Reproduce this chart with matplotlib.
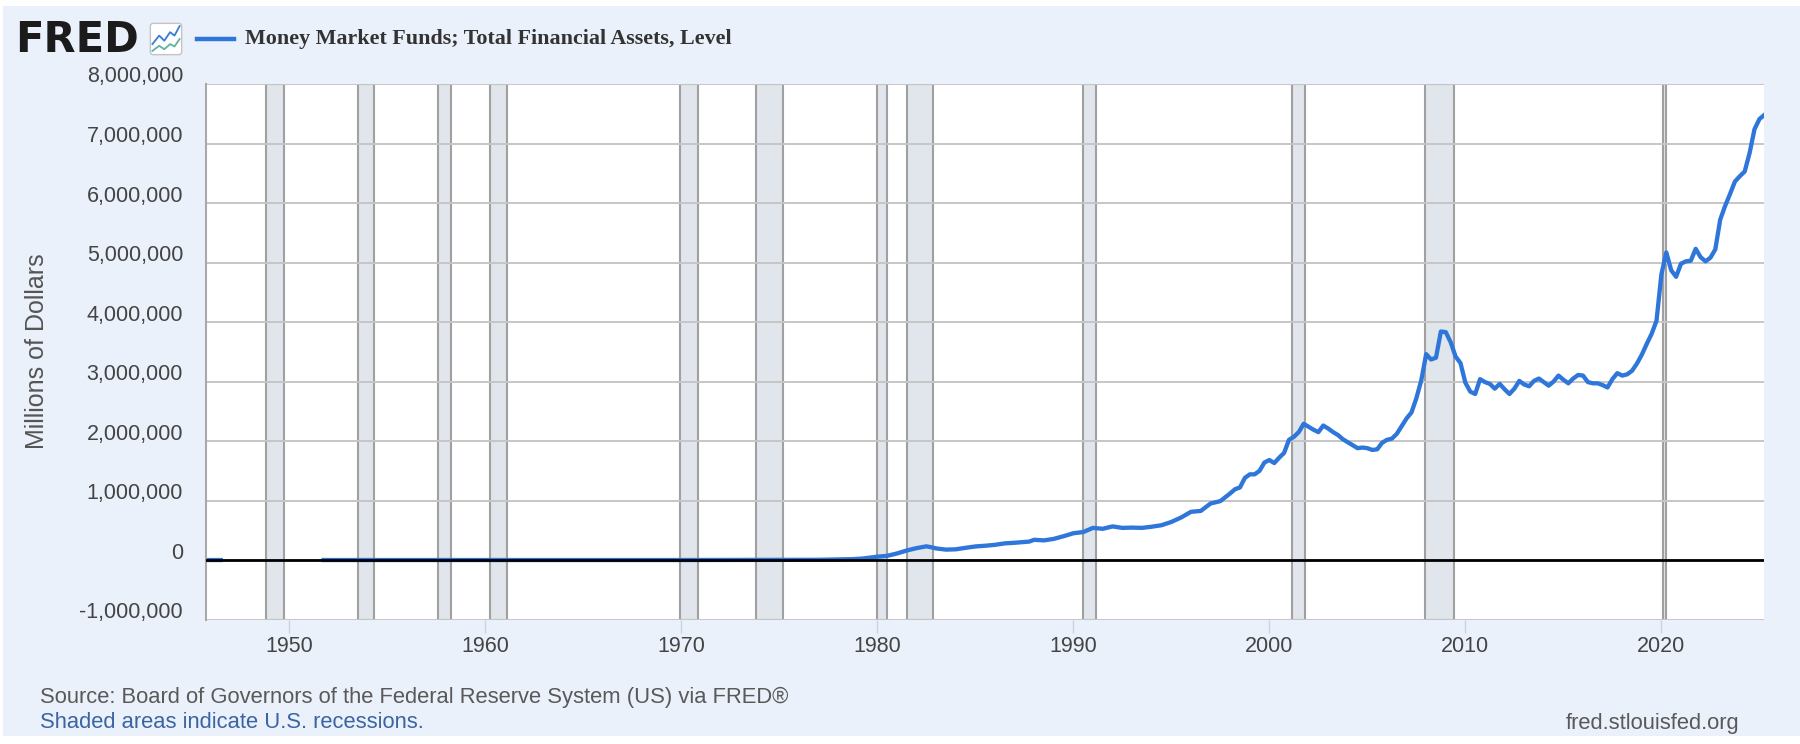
import matplotlib
matplotlib.use("Agg")
import matplotlib.pyplot as plt
import matplotlib.transforms as mtransforms
from matplotlib.patches import Rectangle, FancyBboxPatch
import numpy as np

dates = [1945.75, 1946.0, 1946.25, 1946.5, 1946.75,
         1951.75, 1955.0, 1960.0, 1965.0, 1970.0, 1974.0, 1975.0, 1977.0, 1978.0,
         1978.75, 1979.25, 1979.75, 1980.0, 1980.5, 1981.0, 1981.5, 1982.0, 1982.5,
         1982.75, 1983.0, 1983.5, 1984.0, 1984.5, 1985.0, 1985.5, 1986.0, 1986.5,
         1987.0, 1987.75, 1988.0, 1988.5, 1989.0, 1989.5, 1990.0, 1990.5, 1991.0,
         1991.5, 1992.0, 1992.5, 1993.0, 1993.5, 1994.0, 1994.5, 1995.0, 1995.5,
         1996.0, 1996.5, 1997.0, 1997.5, 1998.0, 1998.25, 1998.5, 1998.75, 1999.0,
         1999.25, 1999.5, 1999.75, 2000.0, 2000.25, 2000.5, 2000.75, 2001.0, 2001.25,
         2001.5, 2001.75, 2002.0, 2002.25, 2002.5, 2002.75, 2003.0, 2003.25, 2003.5,
         2003.75, 2004.0, 2004.25, 2004.5, 2004.75, 2005.0, 2005.25, 2005.5, 2005.75,
         2006.0, 2006.25, 2006.5, 2006.75, 2007.0, 2007.25, 2007.5, 2007.75, 2008.0,
         2008.25, 2008.5, 2008.75, 2009.0, 2009.25, 2009.5, 2009.75, 2010.0, 2010.25,
         2010.5, 2010.75, 2011.0, 2011.25, 2011.5, 2011.75, 2012.0, 2012.25, 2012.5,
         2012.75, 2013.0, 2013.25, 2013.5, 2013.75, 2014.0, 2014.25, 2014.5, 2014.75,
         2015.0, 2015.25, 2015.5, 2015.75, 2016.0, 2016.25, 2016.5, 2016.75, 2017.0,
         2017.25, 2017.5, 2017.75, 2018.0, 2018.25, 2018.5, 2018.75, 2019.0, 2019.25,
         2019.5, 2019.75, 2020.0, 2020.25, 2020.5, 2020.75, 2021.0, 2021.25, 2021.5,
         2021.75, 2022.0, 2022.25, 2022.5, 2022.75, 2023.0, 2023.25, 2023.5, 2023.75,
         2024.0, 2024.25, 2024.5, 2024.75, 2025.0, 2025.25]
assets = [0, 0, 0, 0, np.nan,
          0, 0, 0, 0, 0, 2000, 4000, 4000, 10000,
          15000, 25000, 45000, 56000, 70000, 110000, 160000, 200000, 230000,
          215000, 195000, 175000, 180000, 205000, 228000, 240000, 255000, 280000,
          290000, 310000, 340000, 330000, 355000, 400000, 450000, 470000, 540000,
          525000, 565000, 540000, 545000, 540000, 560000, 585000, 640000, 715000,
          810000, 825000, 950000, 990000, 1120000, 1190000, 1220000, 1380000, 1440000,
          1440000, 1500000, 1640000, 1680000, 1630000, 1720000, 1800000, 2020000, 2070000,
          2150000, 2290000, 2240000, 2190000, 2150000, 2260000, 2210000, 2150000, 2100000,
          2030000, 1980000, 1930000, 1880000, 1890000, 1880000, 1850000, 1860000, 1970000,
          2020000, 2040000, 2120000, 2250000, 2380000, 2480000, 2720000, 3020000, 3460000,
          3370000, 3400000, 3840000, 3830000, 3660000, 3420000, 3310000, 2980000, 2830000,
          2790000, 3040000, 2990000, 2960000, 2880000, 2960000, 2870000, 2790000, 2880000,
          3010000, 2950000, 2920000, 3010000, 3050000, 2990000, 2930000, 3000000, 3100000,
          3030000, 2970000, 3050000, 3110000, 3100000, 2990000, 2970000, 2970000, 2940000,
          2900000, 3040000, 3140000, 3100000, 3120000, 3180000, 3300000, 3450000, 3630000,
          3800000, 4020000, 4800000, 5170000, 4870000, 4760000, 4980000, 5020000, 5030000,
          5230000, 5090000, 5020000, 5080000, 5220000, 5720000, 5950000, 6150000, 6360000,
          6450000, 6530000, 6840000, 7240000, 7410000, 7480000]

# NBER recessions (start month, end month)
recessions = [("1948-11", "1949-10"), ("1953-07", "1954-05"), ("1957-08", "1958-04"),
              ("1960-04", "1961-02"), ("1969-12", "1970-11"), ("1973-11", "1975-03"),
              ("1980-01", "1980-07"), ("1981-07", "1982-11"), ("1990-07", "1991-03"),
              ("2001-03", "2001-11"), ("2007-12", "2009-06"), ("2020-02", "2020-04")]

yticks = [-1000000, 0, 1000000, 2000000, 3000000, 4000000, 5000000, 6000000, 7000000, 8000000]
xticks = [1950, 1960, 1970, 1980, 1990, 2000, 2010, 2020]

series_name = "Money Market Funds; Total Financial Assets, Level"


def to_year(s):
    y, m = s.split("-")
    return int(y) + (int(m) - 1) / 12


plt.rcParams["font.family"] = ["Liberation Sans", "DejaVu Sans"]

fig = plt.figure(figsize=(18, 7.44), dpi=100)
fig.patch.set_facecolor("white")
fig.patches.append(Rectangle((0.0015, 0.011), 0.9985, 0.981, transform=fig.transFigure,
                             facecolor="#eaf1fa", edgecolor="none", zorder=-10))

ax = fig.add_axes([206 / 1800, 0.1673, (1764.3 - 206) / 1800, 0.8871 - 0.1673])
ax.set_facecolor("white")

for s, e in recessions:
    ax.axvspan(to_year(s), to_year(e), facecolor="#e1e5ec", edgecolor="#a0a0a0",
               lw=1.5, zorder=1)
for v in yticks:
    ax.axhline(v, color="#c6c6c6", lw=1.4, zorder=1.5)

ax.plot(dates, assets, color="#2f76db", lw=3.1, zorder=2, solid_joinstyle="round")
ax.axhline(0, color="black", lw=2.0, zorder=3)

ax.set_xlim(1945.75, 2025.25)
ax.set_ylim(-1000000, 8000000)

ax.set_yticks(yticks)
ax.set_yticklabels(["{:,}".format(v) for v in yticks])
ax.set_xticks(xticks)
ax.set_xticklabels([str(v) for v in xticks])
ax.tick_params(axis="y", length=0, pad=16.5, labelsize=15.5, labelcolor="#444444")
ax.tick_params(axis="x", length=9.5, width=1.0, color="#c9d3e2", pad=2.5,
               labelsize=15.5, labelcolor="#444444")
offset = mtransforms.ScaledTranslation(0, 9.5 / 100, fig.dpi_scale_trans)
for lab in ax.get_yticklabels():
    lab.set_transform(lab.get_transform() + offset)

for side in ["top", "right", "bottom"]:
    ax.spines[side].set_visible(False)
ax.spines["left"].set_color("#a9a9a9")
ax.spines["left"].set_linewidth(1.5)

fig.text(37.5 / 1800, 1 - 351.5 / 744, "Millions of Dollars", rotation=90,
         ha="center", va="center", fontsize=18, color="#555555")

# header: FRED logo, icon and legend
fig.text(15 / 1800, 1 - 40 / 744, "FRED", ha="left", va="center", fontsize=30,
         fontweight="heavy", family=["DejaVu Sans"], color="#1b1b1b")
icon = fig.add_axes([149 / 1800, 1 - 56 / 744, 34 / 1800, 34 / 744])
icon.set_xlim(0, 1)
icon.set_ylim(0, 1)
icon.axis("off")
icon.add_patch(FancyBboxPatch((0.04, 0.04), 0.92, 0.92, boxstyle="round,pad=0,rounding_size=0.08",
                              facecolor="white", edgecolor="#c4c4c4", lw=1.0))
icon.plot([0.1, 0.3, 0.45, 0.62, 0.75, 0.9], [0.35, 0.6, 0.45, 0.7, 0.6, 0.88], color="#3a7bd5", lw=1.3)
icon.plot([0.1, 0.3, 0.45, 0.62, 0.75, 0.9], [0.15, 0.3, 0.2, 0.35, 0.28, 0.5], color="#5db3a2", lw=1.3)

fig.lines.append(plt.Line2D([197 / 1800, 234 / 1800], [1 - 39 / 744, 1 - 39 / 744],
                            transform=fig.transFigure, color="#2f76db", lw=3.2))
fig.text(245 / 1800, 1 - 39 / 744, series_name, ha="left", va="center", fontsize=15.8,
         fontweight="bold", family=["Liberation Serif", "DejaVu Serif"], color="#333333")

# footer
fig.text(40 / 1800, 1 - 697 / 744, "Source: Board of Governors of the Federal Reserve System (US) via FRED\u00ae",
         ha="left", va="center", fontsize=15.8, color="#595959")
fig.text(40 / 1800, 1 - 723 / 744, "Shaded areas indicate U.S. recessions.",
         ha="left", va="center", fontsize=15.8, color="#3b64a3")
fig.text(1739 / 1800, 1 - 723 / 744, "fred.stlouisfed.org", ha="right", va="center",
         fontsize=15.8, color="#595959")

fig.savefig("out.png", dpi=100, facecolor=fig.get_facecolor())
